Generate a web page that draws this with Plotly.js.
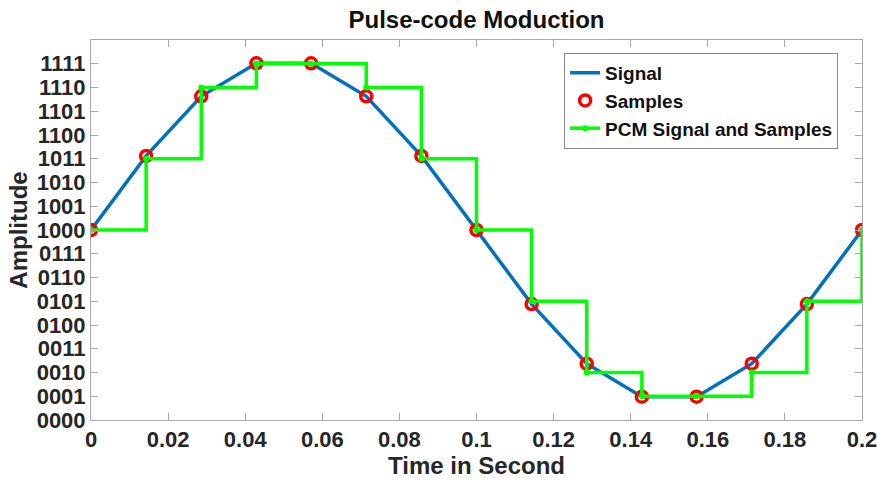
<!DOCTYPE html>
<html>
<head>
<meta charset="utf-8">
<script src="https://cdn.plot.ly/plotly-3.0.1.min.js"></script>
<style>html,body{margin:0;padding:0;background:#fff;}#chart{width:877px;height:483px;}</style>
</head>
<body>
<div id="chart"></div>
<script>
// Sample times (s)
const sampleTimes = [0, 0.0143, 0.0286, 0.0429, 0.0571, 0.0714, 0.0857, 0.1, 0.1143, 0.1286, 0.1429, 0.1571, 0.1714, 0.1857, 0.2];
// Sampled signal amplitude (in quantization-level units)
const sampleValues = [8, 11.12, 13.63, 15.02, 15.02, 13.63, 11.12, 8, 4.88, 2.37, 0.98, 0.98, 2.37, 4.88, 8];
// Quantized PCM levels
const pcmLevels = [8, 11, 14, 15, 15, 14, 11, 8, 5, 2, 1, 1, 2, 5, 8];
// Y tick values and binary labels
const levelTicks = [0, 1, 2, 3, 4, 5, 6, 7, 8, 9, 10, 11, 12, 13, 14, 15];
const levelLabels = ['0000','0001','0010','0011','0100','0101','0110','0111','1000','1001','1010','1011','1100','1101','1110','1111'];
// X ticks
const timeTicks = [0, 0.02, 0.04, 0.06, 0.08, 0.1, 0.12, 0.14, 0.16, 0.18, 0.2];
const timeLabels = ['0','0.02','0.04','0.06','0.08','0.1','0.12','0.14','0.16','0.18','0.2'];

const FAM = 'Liberation Sans, Arial, Helvetica, sans-serif';
const TXT = '#262626';
const AX = '#a8a8a8';

const traces = [
  {x: sampleTimes, y: sampleValues, name: 'Signal', type: 'scatter', mode: 'lines',
   line: {color: '#0072BD', width: 3.5}},
  {x: sampleTimes, y: sampleValues, name: 'Samples', type: 'scatter', mode: 'markers',
   marker: {symbol: 'circle-open', size: 11, color: '#FF0000', line: {width: 3.5, color: '#FF0000'}}},
  {x: sampleTimes, y: pcmLevels, name: 'PCM Signal and Samples', type: 'scatter', mode: 'lines+markers',
   line: {color: '#00FF00', width: 3.5, shape: 'hv'},
   marker: {symbol: 'circle', size: 6, color: '#00FF00'}}
];

const layout = {
  width: 877, height: 483,
  margin: {l: 91, r: 15, t: 40, b: 63, pad: 0},
  paper_bgcolor: '#ffffff', plot_bgcolor: '#ffffff',
  font: {family: FAM, color: TXT, weight: 'bold'},
  title: {text: 'Pulse-code Moduction', x: 0.5, xref: 'paper', xanchor: 'center',
          y: 0.96, yref: 'container', yanchor: 'middle',
          font: {family: FAM, size: 24, color: '#111', weight: 'bold'}},
  showlegend: true,
  legend: {x: 0.969, xanchor: 'right', y: 0.966, yanchor: 'top',
           bgcolor: '#ffffff', bordercolor: '#8a8a8a', borderwidth: 1,
           font: {family: FAM, size: 19, color: '#111', weight: 'bold'},
           itemwidth: 30, tracegroupgap: 0},
  xaxis: {range: [0, 0.2], tickvals: timeTicks, ticktext: timeLabels,
          ticks: 'inside', ticklen: 7, tickcolor: AX, tickwidth: 1,
          showline: true, linecolor: AX, linewidth: 1, mirror: 'allticks',
          showgrid: false, zeroline: false, ticklabeloverflow: 'allow',
          tickfont: {family: FAM, size: 22, color: TXT, weight: 'bold'},
          title: {text: 'Time in Second', standoff: 2,
                  font: {family: FAM, size: 24, color: TXT, weight: 'bold'}}},
  yaxis: {range: [0, 16], tickvals: levelTicks, ticktext: levelLabels,
          ticks: 'inside', ticklen: 7, tickcolor: AX, tickwidth: 1,
          showline: true, linecolor: AX, linewidth: 1, mirror: 'allticks',
          showgrid: false, zeroline: false, ticklabeloverflow: 'allow',
          tickfont: {family: FAM, size: 22, color: TXT, weight: 'bold'},
          title: {text: 'Amplitude', standoff: 2,
                  font: {family: FAM, size: 24, color: TXT, weight: 'bold'}}}
};

Plotly.newPlot('chart', traces, layout, {displayModeBar: false, staticPlot: true});
</script>
</body>
</html>
